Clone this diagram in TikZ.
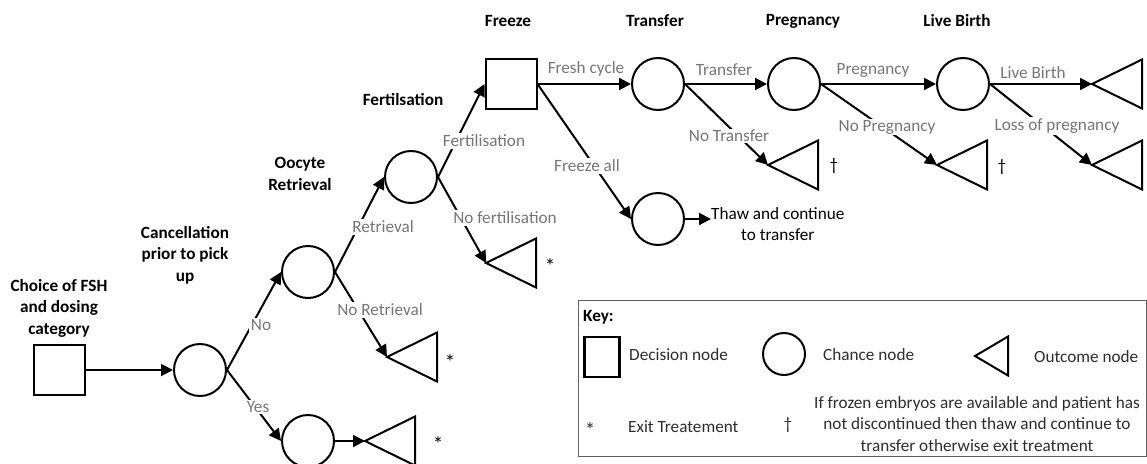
\documentclass[tikz,border=0pt]{standalone}
\usepackage{fontspec}
\setmainfont{Carlito}
\usetikzlibrary{arrows.meta}
\definecolor{labgray}{RGB}{118,118,118}
\definecolor{keygray}{RGB}{95,95,95}
\definecolor{keytext}{RGB}{45,45,45}
\begin{document}
\begin{tikzpicture}[x=1pt,y=-1pt,
  font=\fontsize{17.2}{21.5}\selectfont,
  every node/.style={inner sep=0pt},
  decision/.style={draw, line width=2pt, minimum width=51pt, minimum height=50pt, inner sep=0pt},
  chance/.style={draw, circle, line width=2pt, minimum size=52pt, inner sep=0pt},
  outline/.style={draw, line width=2pt, line join=miter},
  conn/.style={line width=2pt, -{Triangle[length=12pt,width=12pt]}},
  lab/.style={text=labgray, fill=white, inner sep=1.5pt},
  head/.style={font=\fontsize{17.2}{21.5}\selectfont\bfseries, align=center},
  txt/.style={align=center},
  ktxt/.style={text=keytext},
  star/.style={font=\fontsize{21}{24}\selectfont}
]
\useasboundingbox (0,0) rectangle (1147,463);
\clip (0,0) rectangle (1147,463);

% headers
\node[head] (h1) at (59,308) {Choice of FSH\\and dosing\\category};
\node[head] (h2) at (185,255) {Cancellation\\prior to pick\\up};
\node[head] (h3) at (300,174) {Oocyte\\Retrieval};
\node[head] (h4) at (403,100) {Fertilsation};
\node[head] (h5) at (508,21) {Freeze};
\node[head] (h6) at (655,21) {Transfer};
\node[head] (h7) at (803,21) {Pregnancy};
\node[head] (h8) at (957,21) {Live Birth};

% nodes
\node[decision] (d1) at (59,370) {};
\node[chance] (c1) at (200,370) {};
\node[chance] (c2) at (308,272) {};
\node[chance] (cy) at (308,441) {};
\node[chance] (c3) at (411,177) {};
\node[decision] (d2) at (511,84) {};
\node[chance] (ct) at (658,84) {};
\node[chance] (cf) at (658,219) {};
\node[chance] (cp) at (794,84) {};
\node[chance] (cl) at (963,84) {};

% outcome triangles (tips)
\coordinate (ty) at (365,441);
\coordinate (tnr) at (387,357);
\coordinate (tnf) at (486,263);
\coordinate (tnt) at (768,165);
\coordinate (tnp) at (937,165);
\coordinate (tlb) at (1092,84);
\coordinate (tlp) at (1092,165);
\foreach \t in {ty,tnr,tnf,tnt,tnp,tlb,tlp}
  \draw[outline] (\t) -- ++(50,-24.5) -- ++(0,49) -- cycle;

\node[txt, anchor=west] (thaw) at (711,224) {Thaw and continue\\to transfer};

% connectors
\draw[conn] (d1.east) -- (c1.west);
\draw[conn] (c1.east) -- (c2.west);
\draw[conn] (c1.east) -- (cy.west);
\draw[conn] (cy.east) -- (ty);
\draw[conn] (c2.east) -- (c3.west);
\draw[conn] (c2.east) -- (tnr);
\draw[conn] (c3.east) -- (d2.west);
\draw[conn] (c3.east) -- (tnf);
\draw[conn] (d2.east) -- (ct.west);
\draw[conn] (d2.east) -- (cf.west);
\draw[conn] (cf.east) -- (cf.east -| thaw.west);
\draw[conn] (ct.east) -- (cp.west);
\draw[conn] (ct.east) -- (tnt);
\draw[conn] (cp.east) -- (cl.west);
\draw[conn] (cp.east) -- (tnp);
\draw[conn] (cl.east) -- (tlb);
\draw[conn] (cl.east) -- (tlp);

% branch labels
\node[lab] (lno) at (261,325) {No};
\node[lab] (lyes) at (258,407) {Yes};
\node[lab] (lret) at (383,227) {Retrieval};
\node[lab] (lnret) at (380,310) {No Retrieval};
\node[lab] (lfer) at (484,141) {Fertilisation};
\node[lab] (lnfer) at (505,218) {No fertilisation};
\node[lab] (lfresh) at (586,69) {Fresh cycle};
\node[lab] (lfrz) at (587,166) {Freeze all};
\node[lab] (ltr) at (724,70) {Transfer};
\node[lab] (lntr) at (729,136) {No Transfer};
\node[lab] (lpr) at (873,70) {Pregnancy};
\node[lab] (lnpr) at (887,127) {No Pregnancy};
\node[lab] (llb) at (1033,73) {Live Birth};
\node[lab] (llp) at (1057,126) {Loss of pregnancy};

% marks
\node[star] (m1) at (438,444.5) {*};
\node[star] (m2) at (450,362.5) {*};
\node[star] (m3) at (550,266.5) {*};
\node (m4) at (834,166) {†};
\node (m5) at (1002,167) {†};

% key
\node[draw=keygray, line width=1.3pt, minimum width=568pt, minimum height=156pt, anchor=north west] (key) at (578,300) {};
\node[anchor=west, font=\fontsize{17.2}{21.5}\selectfont\bfseries] (keyt) at (583,317) {Key:};
\node[decision, minimum width=35pt, minimum height=40pt, line width=2.4pt] (kd) at (602,357) {};
\node[ktxt, anchor=west] (kdt) at (629,355) {Decision node};
\node[chance, minimum size=42pt] (kc) at (784,354) {};
\node[ktxt, anchor=west] (kct) at (823,355) {Chance node};
\coordinate (kt) at (975,356);
\draw[outline] (kt) -- ++(33,-19.5) -- ++(0,39) -- cycle;
\node[ktxt, anchor=west] (ktt) at (1034,357) {Outcome node};
\node[ktxt, star] (ks) at (590,430.5) {*};
\node[ktxt, anchor=west] (kst) at (628,427) {Exit Treatement};
\node[ktxt] (kdg) at (788,425) {†};
\node[ktxt, txt] (kdgt) at (977,424) {If frozen embryos are available and patient has\\not discontinued then thaw and continue to\\transfer otherwise exit treatment};
\end{tikzpicture}
\end{document}
